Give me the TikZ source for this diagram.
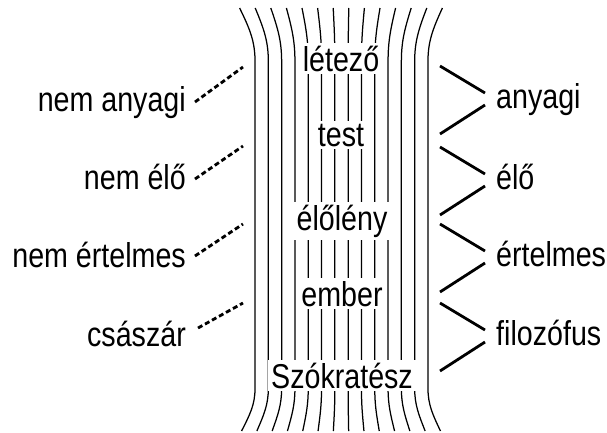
\documentclass[tikz,border=0pt]{standalone}
\usepackage{fontspec}
\setmainfont{Liberation Sans}[FakeStretch=0.83]
\usetikzlibrary{calc}
\begin{document}
\begin{tikzpicture}[x=1pt,y=-1pt,
  lbl/.style={font=\fontsize{34.5}{40}\selectfont, inner sep=0pt},
  mid/.style={lbl, fill=white, inner sep=3pt},
  fibre/.style={line width=1.25pt},
  neg/.style={line width=2.8pt, dash pattern=on 5pt off 3pt},
  arm/.style={line width=2.8pt}]
\useasboundingbox (0,0) rectangle (607,432);

% the bundle of fibres, spread at both ends
\foreach \i in {0,...,13}{
  \pgfmathsetmacro\fxt{341+15.6*(\i-6.5)}
  \pgfmathsetmacro\fxm{341.5+13.3*(\i-6.5)}
  \pgfmathsetmacro\fxb{341+15.3*(\i-6.5)}
  \draw[fibre] (\fxt,8) .. controls ({\fxt+0.7*(\fxm-\fxt)},30) and (\fxm,42) .. (\fxm,62)
    -- (\fxm,388) .. controls (\fxm,405) and ({\fxb+0.6*(\fxm-\fxb)},415) .. (\fxb,431);
}

% concepts along the bundle
\node[mid, anchor=base] (letezo) at (341,71) {létező};
\node[mid, anchor=base] (test) at (341,146) {test};
\node[mid, anchor=base] (eloleny) at (342,230) {élőlény};
\node[mid, anchor=base] (ember) at (342,306) {ember};
\node[mid, anchor=base] (szokratesz) at (342,388) {Szókratész};

% negative differences (left)
\node[lbl, anchor=base east] (nanyagi) at (186,111) {nem anyagi};
\node[lbl, anchor=base east] (nelo) at (186,189) {nem élő};
\node[lbl, anchor=base east] (nert) at (186,267) {nem értelmes};
\node[lbl, anchor=base east] (csaszar) at (186,346) {császár};

\coordinate (d1) at (243,67);
\coordinate (d2) at (243,146);
\coordinate (d3) at (243,224);
\coordinate (d4) at (243,303);
\draw[neg] ($(nanyagi.base east)+(9,-9)$) -- (d1);
\draw[neg] ($(nelo.base east)+(9,-10)$) -- (d2);
\draw[neg] ($(nert.base east)+(9,-11)$) -- (d3);
\draw[neg] ($(csaszar.base east)+(12,-18)$) -- (d4);

% positive differences (right)
\node[lbl, anchor=base west] (anyagi) at (496,108) {anyagi};
\node[lbl, anchor=base west] (elo) at (496,189) {élő};
\node[lbl, anchor=base west] (ertelmes) at (496,266) {értelmes};
\node[lbl, anchor=base west] (filozofus) at (496,345) {filozófus};

\foreach \n/\yc in {anyagi/99, elo/180, ertelmes/257, filozofus/336}{
  \coordinate (\n-up) at (440,\yc-33);
  \coordinate (\n-dn) at (440,\yc+35);
  \draw[arm] (\n-up) -- ($(\n.base west)+(-11,-15)$);
  \draw[arm] ($(\n.base west)+(-11,-3)$) -- (\n-dn);
}
\end{tikzpicture}
\end{document}
